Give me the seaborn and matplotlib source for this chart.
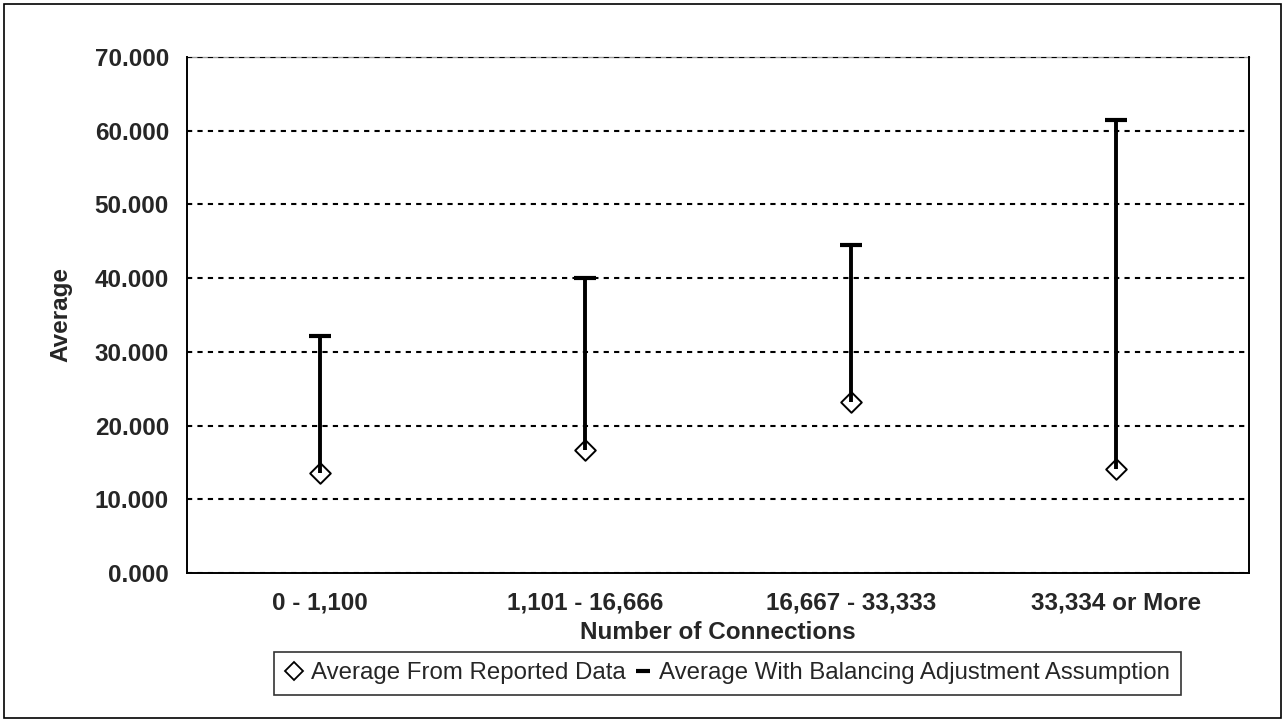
#Range of averages by number of connections
import numpy as np
import pandas as pd
import seaborn as sns
import matplotlib.pyplot as plt
from matplotlib.lines import Line2D
from matplotlib.patches import Rectangle

# Values
categories = ["0 - 1,100", "1,101 - 16,666", "16,667 - 33,333", "33,334 or More"]
reported = [13.6, 16.7, 23.2, 14.1]
balanced = [32.2, 40.0, 44.5, 61.4]
y_ticks = [0, 10, 20, 30, 40, 50, 60, 70]
legend_labels = ["Average From Reported Data", "Average With Balancing Adjustment Assumption"]

df = pd.DataFrame({"Connections": categories, "Reported": reported, "Balanced": balanced})
df["pos"] = np.arange(len(df))

sns.set_theme(style="white")
plt.rcParams['font.family'] = ['Liberation Sans', 'DejaVu Sans']

fig = plt.figure(figsize=(12.85, 7.21), dpi=100)
ax = fig.add_axes([187 / 1285, 1 - 573 / 721, 1062 / 1285, 516 / 721])

# stems from reported value up to the balanced value
ax.vlines(df["pos"], df["Reported"], df["Balanced"], color="black", lw=2.8, zorder=3)
sns.scatterplot(data=df, x="pos", y="Reported", marker="D", s=110, facecolor="white",
                edgecolor="black", linewidth=1.4, zorder=2, ax=ax)
sns.scatterplot(data=df, x="pos", y="Balanced", marker="_", s=250, color="black",
                linewidth=3, zorder=4, ax=ax)

# axes
ax.set_xlim(-0.5, 3.5)
ax.set_ylim(0, 70)
ax.set_xticks(df["pos"])
ax.set_xticklabels(categories)
ax.set_xticks(np.arange(-0.5, 4, 1), minor=True)
ax.set_yticks(y_ticks)
ax.set_yticklabels([f"{v:.3f}" for v in y_ticks])
ax.tick_params(axis='x', which='major', length=0, pad=13, labelsize=17.5)
ax.tick_params(axis='x', which='minor', direction='inout', length=12, width=1.2, color='black')
ax.tick_params(axis='y', direction='out', length=6, width=1.2, color='black', pad=7, labelsize=17.5)
for lab in ax.get_xticklabels() + ax.get_yticklabels():
    lab.set_fontweight('bold')

ax.yaxis.grid(True, linestyle=(0, (2.5, 2.5)), color='black', lw=1.5)
ax.xaxis.grid(False)

for side in ['left', 'bottom', 'right']:
    ax.spines[side].set_color('black')
    ax.spines[side].set_linewidth(1.4)
ax.spines['top'].set_color('#999999')
ax.spines['top'].set_linewidth(1.0)
ax.spines['top'].set_zorder(0.1)
ax.set_axisbelow(True)

ax.set_xlabel("Number of Connections", fontsize=17.5, fontweight='bold')
ax.set_ylabel("Average", fontsize=17.5, fontweight='bold')
ax.xaxis.set_label_coords(0.5, -0.093)
ax.yaxis.set_label_coords(-0.108, 0.5)

# legend
handles = [Line2D([], [], marker='D', ls='none', markersize=9.5, mfc='white', mec='black', mew=1.3),
           Line2D([], [], marker='_', ls='none', markersize=10, mec='black', mew=3)]
leg = fig.legend(handles, legend_labels, loc='center',
                 bbox_to_anchor=(727.5 / 1285, 1 - 673.5 / 721), ncol=2,
                 frameon=True, fancybox=False, edgecolor='black', fontsize=17.3,
                 handlelength=0.8, handletextpad=0.3, columnspacing=0.3, borderpad=0.45,
                 borderaxespad=0)
leg.get_frame().set_linewidth(1.2)

# outer chart border
fig.patches.append(Rectangle((0.003, 0.004), 0.994, 0.991, transform=fig.transFigure,
                             fill=False, edgecolor='black', lw=1.2))

fig.savefig('out.png', dpi=100)
